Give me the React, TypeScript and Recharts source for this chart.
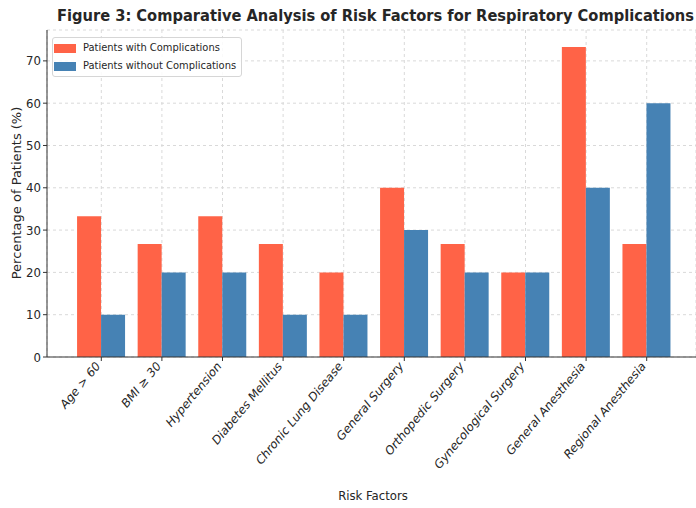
import React from 'react';
import { BarChart, Bar, XAxis, YAxis, CartesianGrid } from 'recharts';

const categories = [
  'Age > 60',
  'BMI ≥ 30',
  'Hypertension',
  'Diabetes Mellitus',
  'Chronic Lung Disease',
  'General Surgery',
  'Orthopedic Surgery',
  'Gynecological Surgery',
  'General Anesthesia',
  'Regional Anesthesia',
];
const withComplications = [33.3, 26.7, 33.3, 26.7, 20, 40, 26.7, 20, 73.3, 26.7];
const withoutComplications = [10, 20, 20, 10, 10, 30, 20, 20, 40, 60];
const yTicks = [0, 10, 20, 30, 40, 50, 60, 70];

const data = categories.map((name, i) => ({
  name,
  withC: withComplications[i],
  withoutC: withoutComplications[i],
}));

const FONT = '"DejaVu Sans Condensed", "DejaVu Sans", sans-serif';
const ORANGE = '#FF6347';
const BLUE = '#4682B4';

// the reference is a bit squeezed sideways, so the 45° labels look steeper
const RotatedTick = (props: any) => {
  const { x, y, payload } = props;
  return (
    <g transform={`translate(${x - 3},${y + 1})`}>
      <text
        x={0}
        y={0}
        dy={4}
        textAnchor="end"
        transform="scale(0.83,1) rotate(-45)"
        fill="#262626"
        fontSize={13}
        fontFamily='"DejaVu Sans", sans-serif'
      >
        {payload.value}
      </text>
    </g>
  );
};

const LegendBox = () => (
  <div
    style={{
      position: 'absolute',
      left: 52,
      top: 37,
      border: '1px solid #d6d6d6',
      borderRadius: 3,
      background: 'rgba(255,255,255,0.85)',
      padding: '1px 5px 1px 1px',
      fontFamily: FONT,
      fontSize: 11,
      color: '#262626',
      lineHeight: '18px',
    }}
  >
    {[
      ['Patients with Complications', ORANGE],
      ['Patients without Complications', BLUE],
    ].map(([label, color]) => (
      <div key={label} style={{ display: 'flex', alignItems: 'center' }}>
        <span style={{ display: 'inline-block', width: 22, height: 9, background: color, marginRight: 7 }} />
        {label}
      </div>
    ))}
  </div>
);

export default function App() {
  return (
    <div style={{ position: 'absolute', left: 0, top: 0, width: 696, height: 508, background: '#fff' }}>
      <div
        style={{
          position: 'absolute',
          top: 6,
          left: 51,
          width: 649,
          textAlign: 'center',
          fontFamily: FONT,
          fontWeight: 'bold',
          fontSize: 16.3,
          color: '#262626',
        }}
      >
        Figure 3: Comparative Analysis of Risk Factors for Respiratory Complications
      </div>
      <BarChart
        width={696}
        height={508}
        data={data}
        margin={{ top: 30, right: 0, bottom: 0, left: 0 }}
        barCategoryGap="10%"
        barGap={0}
      >
        <CartesianGrid stroke="#d9d9d9" strokeDasharray="3 3" />
        <XAxis
          dataKey="name"
          interval={0}
          padding={{ left: 24, right: 19 }}
          stroke="#333"
          tickLine={{ stroke: '#333' }}
          tickSize={4}
          height={151}
          tick={<RotatedTick />}
          label={{
            content: () => (
              <text x={373} y={500} textAnchor="middle" fontSize={13} fontFamily={FONT} fill="#262626">
                Risk Factors
              </text>
            ),
          }}
        />
        <YAxis
          width={47}
          domain={[0, 77.3]}
          ticks={yTicks}
          interval={0}
          allowDataOverflow
          stroke="#333"
          tickSize={4}
          tick={{ fill: '#262626', fontSize: 13, fontFamily: FONT }}
          label={{
            content: () => (
              <text
                x={0}
                y={0}
                transform="translate(21,193) rotate(-90)"
                textAnchor="middle"
                fontSize={13}
                fontFamily='"DejaVu Sans", sans-serif'
                fill="#262626"
              >
                Percentage of Patients (%)
              </text>
            ),
          }}
        />
        <Bar dataKey="withC" name="Patients with Complications" fill={ORANGE} isAnimationActive={false} />
        <Bar dataKey="withoutC" name="Patients without Complications" fill={BLUE} isAnimationActive={false} />
      </BarChart>
      <LegendBox />
    </div>
  );
}
